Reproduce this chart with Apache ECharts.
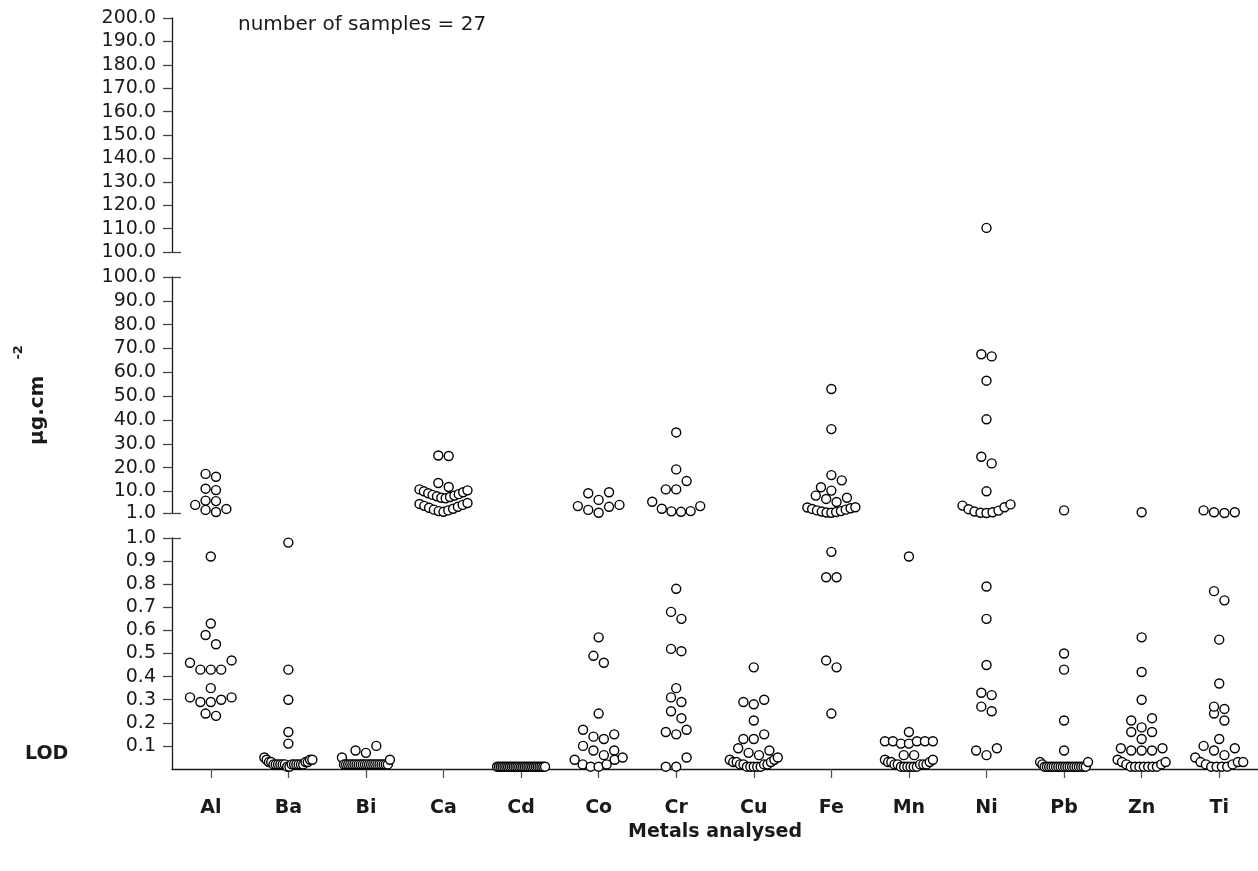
<!DOCTYPE html>
<html>
<head>
<meta charset="utf-8">
<script src="https://cdn.jsdelivr.net/npm/echarts@6.0.0/dist/echarts.min.js"></script>
<style>
  html, body { margin: 0; padding: 0; background: #fff; }
  #chart { width: 1258px; height: 871px; }
</style>
</head>
<body>
<div id="chart"></div>
<script>
const metals = ["Al", "Ba", "Bi", "Ca", "Cd", "Co", "Cr", "Cu", "Fe", "Mn", "Ni", "Pb", "Zn", "Ti"];

// µg.cm-2, 27 samples each (values at LOD plotted near 0.01)
const al = [17.4, 16.2, 11.2, 10.6, 6.2, 6.0, 4.4, 2.7, 2.3, 1.4,
  0.92, 0.63, 0.58, 0.54, 0.47, 0.46, 0.43, 0.43, 0.43, 0.35, 0.31, 0.31, 0.30, 0.29, 0.29, 0.24, 0.23];
const ba = [0.98, 0.43, 0.30, 0.16, 0.11, 0.05, 0.04, 0.04, 0.04, 0.03, 0.03, 0.03, 0.03,
  0.02, 0.02, 0.02, 0.02, 0.02, 0.02, 0.02, 0.02, 0.02, 0.02, 0.02, 0.02, 0.01, 0.01];
const bi = [0.10, 0.08, 0.07, 0.05, 0.04,
  0.02, 0.02, 0.02, 0.02, 0.02, 0.02, 0.02, 0.02, 0.02, 0.02, 0.02,
  0.02, 0.02, 0.02, 0.02, 0.02, 0.02, 0.02, 0.02, 0.02, 0.02, 0.02];
const ca = [25.1, 24.9, 13.6, 11.9,
  10.9, 10.5, 10.1, 9.7, 9.3, 8.9, 8.6, 8.3, 8.0, 7.7, 7.4, 7.2,
  5.2, 4.8, 4.4, 4.0, 3.6, 3.2, 2.8, 2.4, 2.1, 1.8, 1.5];
const cd = [0.01, 0.01, 0.01, 0.01, 0.01, 0.01, 0.01, 0.01, 0.01, 0.01, 0.01, 0.01, 0.01, 0.01,
  0.01, 0.01, 0.01, 0.01, 0.01, 0.01, 0.01, 0.01, 0.01, 0.01, 0.01, 0.01, 0.01];
const co = [9.7, 9.3, 6.5, 4.4, 3.9, 3.6, 2.3, 1.1,
  0.57, 0.49, 0.46, 0.24, 0.17, 0.15, 0.14, 0.13, 0.10, 0.08, 0.08, 0.06, 0.05, 0.04, 0.04, 0.02, 0.02, 0.01, 0.01];
const cr = [34.8, 19.3, 14.4, 10.9, 10.9, 5.7, 3.9, 2.8, 1.8, 1.7, 1.5,
  0.78, 0.68, 0.65, 0.52, 0.51, 0.35, 0.31, 0.29, 0.25, 0.22, 0.17, 0.16, 0.15, 0.05, 0.01, 0.01];
const cu = [0.44, 0.30, 0.29, 0.28, 0.21, 0.15, 0.13, 0.13, 0.09, 0.08, 0.07, 0.06,
  0.05, 0.04, 0.04, 0.03, 0.03, 0.03, 0.02, 0.02, 0.02, 0.02, 0.01, 0.01, 0.01, 0.01, 0.01];
const fe = [53.0, 36.2, 16.9, 14.7, 11.8, 10.4, 8.3, 7.4, 6.9, 5.6,
  3.4, 3.3, 3.0, 2.7, 2.4, 2.1, 1.8, 1.6, 1.4, 1.2, 1.1,
  0.94, 0.83, 0.83, 0.47, 0.44, 0.24];
const mn = [0.92, 0.16, 0.12, 0.12, 0.12, 0.12, 0.12, 0.11, 0.11, 0.06, 0.06,
  0.04, 0.04, 0.03, 0.03, 0.03, 0.02, 0.02, 0.02, 0.02, 0.02, 0.01, 0.01, 0.01, 0.01, 0.01, 0.01];
const ni = [110.3, 67.6, 66.7, 56.5, 40.3, 24.6, 21.8, 10.1,
  4.6, 4.1, 3.4, 2.6, 2.0, 1.6, 1.3, 1.1, 1.0,
  0.79, 0.65, 0.45, 0.33, 0.32, 0.27, 0.25, 0.09, 0.08, 0.06];
const pb = [2.1, 0.50, 0.43, 0.21, 0.08, 0.03, 0.03, 0.02,
  0.01, 0.01, 0.01, 0.01, 0.01, 0.01, 0.01, 0.01, 0.01, 0.01,
  0.01, 0.01, 0.01, 0.01, 0.01, 0.01, 0.01, 0.01, 0.01];
const zn = [1.3, 0.57, 0.42, 0.30, 0.22, 0.21, 0.18, 0.16, 0.16, 0.13, 0.09, 0.09, 0.08, 0.08, 0.08,
  0.04, 0.03, 0.03, 0.02, 0.02, 0.01, 0.01, 0.01, 0.01, 0.01, 0.01, 0.01];
const ti = [2.1, 1.3, 1.3, 1.0,
  0.77, 0.73, 0.56, 0.37, 0.27, 0.26, 0.24, 0.21, 0.13, 0.10, 0.09, 0.08, 0.06, 0.05,
  0.03, 0.03, 0.03, 0.02, 0.02, 0.01, 0.01, 0.01, 0.01];

const values = [al, ba, bi, ca, cd, co, cr, cu, fe, mn, ni, pb, zn, ti];

// tick labels of the three broken y-axis pieces
const topTicks = [100, 110, 120, 130, 140, 150, 160, 170, 180, 190, 200];
const midTicks = [1, 10, 20, 30, 40, 50, 60, 70, 80, 90, 100];
const lowTicks = [0.1, 0.2, 0.3, 0.4, 0.5, 0.6, 0.7, 0.8, 0.9, 1.0];

const FONT = "DejaVu Sans";
const INK = "#1a1a1a";

const chart = echarts.init(document.getElementById("chart"));

const segRange = [[100, 200], [1, 100], [0, 1]];
const segTicks = [topTicks, midTicks, lowTicks];
const segBreaks = [[100], [1, 100], [1]];
const metalPos = metals.map((m, i) => i);

const grids = [
  { left: 172, width: 1088, top: 18, height: 234 },
  { left: 172, width: 1088, top: 277, height: 236 },
  { left: 172, width: 1088, top: 538, height: 231 },
];

const xAxes = grids.map((g, i) => {
  const ax = {
    type: "value", gridIndex: i, min: -0.5, max: 13.5,
    splitLine: { show: false },
    show: i === 2,
  };
  if (i === 2) {
    Object.assign(ax, {
      position: "bottom",
      axisLine: { onZero: false, lineStyle: { color: INK, width: 1.3 } },
      axisTick: { customValues: metalPos, length: 9, lineStyle: { color: "#555", width: 1.3 } },
      axisLabel: {
        customValues: metalPos, formatter: (v) => metals[v], margin: 30,
        fontFamily: FONT, fontWeight: "bold", fontSize: 19, color: INK,
      },
      name: "Metals analysed", nameLocation: "middle", nameGap: 54,
      nameTextStyle: { fontFamily: FONT, fontWeight: "bold", fontSize: 19, color: INK },
    });
  }
  return ax;
});

const yAxes = [];
grids.forEach((g, i) => {
  yAxes.push({
    type: "value", gridIndex: i, position: "left",
    min: segRange[i][0], max: segRange[i][1],
    axisLine: { show: true, onZero: false, lineStyle: { color: INK, width: 1.3 } },
    axisTick: { show: true, length: 9, customValues: segTicks[i], lineStyle: { color: "#444", width: 1.3 } },
    axisLabel: {
      customValues: segTicks[i], margin: 16, formatter: (v) => v.toFixed(1),
      fontFamily: FONT, fontSize: 19, color: INK,
    },
    splitLine: { show: false },
  });
});
// inward ticks marking the axis breaks
grids.forEach((g, i) => {
  yAxes.push({
    type: "value", gridIndex: i, position: "left",
    min: segRange[i][0], max: segRange[i][1],
    axisLine: { show: false, onZero: false },
    axisTick: { show: true, inside: true, length: 9, customValues: segBreaks[i], lineStyle: { color: "#444", width: 1.3 } },
    axisLabel: { show: false },
    splitLine: { show: false },
  });
});

yAxes[1].name = "{u|µg.cm}{s|-2}";
yAxes[1].nameLocation = "middle";
yAxes[1].nameRotate = 90;
yAxes[1].nameGap = 124;
yAxes[1].nameTextStyle = {
  rich: {
    u: { fontFamily: FONT, fontWeight: "bold", fontSize: 20, color: INK, lineHeight: 36, verticalAlign: "bottom" },
    s: { fontFamily: FONT, fontWeight: "bold", fontSize: 13, color: INK, verticalAlign: "top", padding: [0, 0, 0, 16] },
  },
};

chart.setOption({
  animation: false,
  textStyle: { fontFamily: FONT },
  title: {
    text: "number of samples = 27", left: 238, top: 15, padding: 0,
    textStyle: { fontFamily: FONT, fontWeight: "normal", fontSize: 20, color: INK },
  },
  graphic: [{
    type: "text", left: 25, top: 745,
    style: { text: "LOD", fontFamily: FONT, fontWeight: "bold", fontSize: 19, fill: INK },
  }],
  grid: grids,
  xAxis: xAxes,
  yAxis: yAxes,
  series: [],
});

// spread points of similar value side by side (scatter dot plot)
const unit = chart.convertToPixel({ xAxisIndex: 2 }, 1) - chart.convertToPixel({ xAxisIndex: 2 }, 0);
const segOf = (v) => (v > 100 ? 0 : v >= 1 ? 1 : 2);
const seriesData = [[], [], []];
const BIN = 10.5, GAP = 10.4, MAXW = 48;

values.forEach((vals, mi) => {
  [0, 1, 2].forEach((s) => {
    const pts = vals.filter((v) => segOf(v) === s)
      .map((v) => ({ v, py: chart.convertToPixel({ yAxisIndex: s }, v) }))
      .sort((a, b) => b.py - a.py);
    let k = 0;
    while (k < pts.length) {
      const start = pts[k].py;
      const bin = [];
      while (k < pts.length && start - pts[k].py < BIN) bin.push(pts[k++]);
      const n = bin.length;
      const gap = n > 1 ? Math.min(GAP, MAXW / (n - 1)) : 0;
      bin.forEach((p, j) => {
        let slot;
        if (n % 2) slot = j === 0 ? 0 : (j % 2 ? -1 : 1) * Math.ceil(j / 2);
        else slot = (j % 2 ? -1 : 1) * (Math.floor(j / 2) + 0.5);
        seriesData[s].push([mi + (slot * gap) / unit, p.v]);
      });
    }
  });
});
seriesData.forEach((d) => d.sort((a, b) => a[0] - b[0]));

chart.setOption({
  series: seriesData.map((d, s) => ({
    type: "scatter", xAxisIndex: s, yAxisIndex: s, data: d,
    symbol: "circle", symbolSize: 9, clip: false, silent: true,
    itemStyle: { color: "#fff", borderColor: "#000", borderWidth: 1.4, opacity: 1 },
  })),
});
</script>
</body>
</html>
